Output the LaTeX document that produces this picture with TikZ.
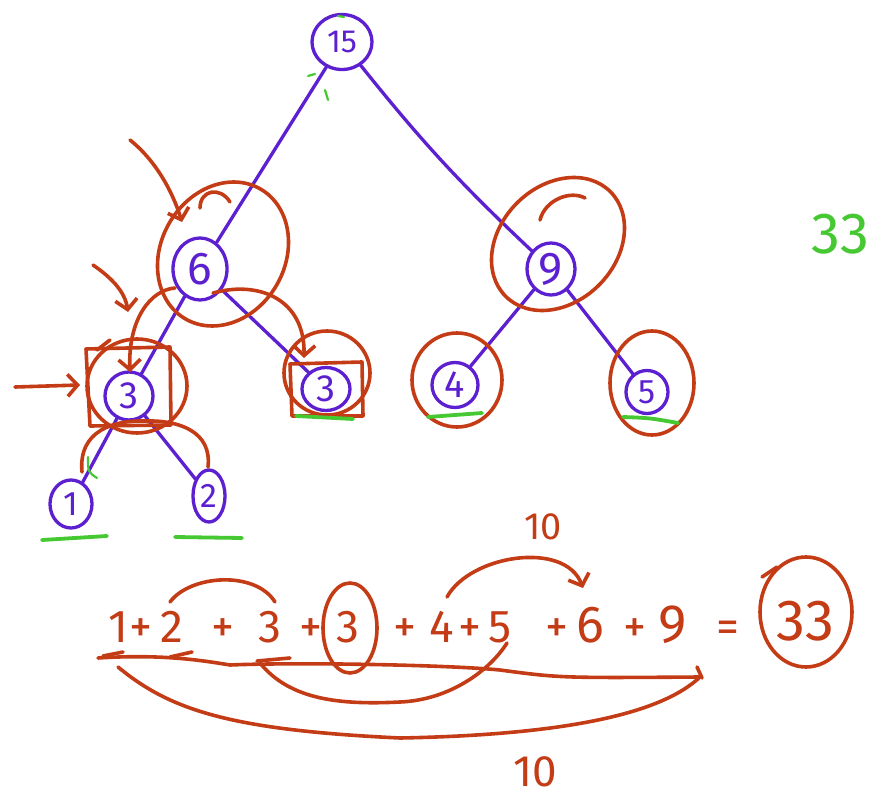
\documentclass[tikz,border=0pt]{standalone}
\usepackage{fontspec}
\setmainfont{Fira Sans}
\usetikzlibrary{arrows.meta,shapes.geometric}
\definecolor{pur}{RGB}{92,32,208}
\definecolor{org}{RGB}{196,60,22}
\definecolor{grn}{RGB}{70,200,50}
\begin{document}
\begin{tikzpicture}[x=1pt,y=-1pt,line cap=round,line join=round,
  tn/.style={ellipse,draw=pur,line width=3.3pt,text=pur,inner sep=0pt,font=\fontsize{38}{38}\selectfont},
  edge/.style={draw=pur,line width=3.3pt},
  ann/.style={draw=org,line width=3.6pt},
  annarr/.style={ann,-{Straight Barb[length=10pt,width=22pt]}},
  gl/.style={draw=grn,line width=3.8pt},
  gs/.style={draw=grn,line width=2.2pt},
  eq/.style={text=org,inner sep=0pt,anchor=base,font=\fontsize{46}{46}\selectfont},
]
\useasboundingbox[fill=white] (0,0) rectangle (886,802);

% ---------- tree nodes ----------
\node[tn,minimum width=60pt,minimum height=55pt,font=\fontsize{32}{32}\selectfont] (n15) at (342,42) {15};
\node[tn,minimum width=54pt,minimum height=62pt,font=\fontsize{46}{46}\selectfont] (n6) at (200,269) {6};
\node[tn,minimum width=48pt,minimum height=52pt,font=\fontsize{46}{46}\selectfont] (n9) at (551,269) {9};
\node[tn,minimum width=48pt,minimum height=48pt] (n3a) at (129,396) {3};
\node[tn,minimum width=48pt,minimum height=43pt] (n3b) at (326,389) {3};
\node[tn,minimum width=46pt,minimum height=45pt] (n4) at (455,385) {4};
\node[tn,minimum width=42pt,minimum height=43pt,font=\fontsize{34}{34}\selectfont] (n5) at (647,392) {5};
\node[tn,minimum width=42pt,minimum height=48pt,font=\fontsize{34}{34}\selectfont] (n1) at (71,504) {1};
\node[tn,minimum width=32pt,minimum height=52pt,font=\fontsize{34}{34}\selectfont] (n2) at (209,496) {2};

% ---------- tree edges ----------
\draw[edge] (n15) -- (n6);
\draw[edge] (n15) to[bend right=4] (n9);
\draw[edge] (n6) -- (n3a);
\draw[edge] (n6) -- (n3b);
\draw[edge] (n9) -- (n4);
\draw[edge] (n9) -- (n5);
\draw[edge] (n3a) -- (n1);
\draw[edge] (n3a) -- (n2);

% ---------- orange annotations on the tree ----------
\draw[ann,rotate around={60:(223,254)}] (223,254) ellipse [x radius=75,y radius=62];
\draw[ann] (200,208) .. controls (200,190) and (220,186) .. (230,202);
\draw[annarr] (130,140) .. controls (155,160) and (172,190) .. (182,222);
\draw[annarr] (93,265) .. controls (112,278) and (125,292) .. (128,312);
\draw[annarr] (15,387) -- (80,385);
\draw[ann] (86,349) -- (170,347) -- (171,425) -- (90,426) -- cycle;
\draw[ann] (137,386) ellipse [x radius=50,y radius=47];
\draw[ann] (97,350) -- (110,340);
\draw[ann] (290,364) -- (362,362) -- (363,416) -- (292,416) -- cycle;
\draw[ann] (327,373) ellipse [x radius=43,y radius=42];
\draw[annarr] (175,288) .. controls (150,290) and (128,320) .. (130,372);
\draw[annarr] (213,293) .. controls (260,280) and (305,300) .. (304,358);
\draw[ann] (82,472) .. controls (78,430) and (115,420) .. (145,421) .. controls (180,420) and (212,432) .. (208,467);
\draw[ann,rotate around={45:(558,244)}] (558,244) ellipse [x radius=74,y radius=58];
\draw[ann] (540,220) .. controls (545,200) and (570,190) .. (585,198);
\draw[ann] (457,380) ellipse [x radius=45,y radius=47];
\draw[ann] (652,383) ellipse [x radius=42,y radius=52];

% ---------- green marks ----------
\draw[gl] (428,417) -- (482,413);
\draw[gl] (623,417) .. controls (650,418) .. (678,423);
\draw[gl] (42,540) -- (107,536);
\draw[gl] (175,537) -- (242,538);
\draw[gl] (296,416) -- (353,419);
\draw[gs] (308,76) -- (315,74);
\draw[gs] (325,90) -- (328,100);
\draw[gs] (338,16) -- (344,17);
\draw[gs] (88,457) .. controls (88,472) .. (97,478);
\node[text=grn,font=\fontsize{58}{58}\selectfont] (g33) at (840,234) {33};

% ---------- equation ----------
\node[eq] (e1)  at (118,642) {1};
\node[eq] (p1)  at (141,642) {+};
\node[eq] (e2)  at (172,642) {2};
\node[eq] (p2)  at (223,642) {+};
\node[eq] (e3)  at (270,642) {3};
\node[eq] (p3)  at (311,642) {+};
\node[eq] (e3c) at (348,642) {3};
\node[eq] (p4)  at (405,642) {+};
\node[eq] (e4)  at (442,642) {4};
\node[eq] (p5)  at (470,642) {+};
\node[eq] (e5)  at (500,642) {5};
\node[eq] (p6)  at (557,642) {+};
\node[eq,font=\fontsize{52}{52}\selectfont] (e6)  at (590,642) {6};
\node[eq] (p7)  at (635,642) {+};
\node[eq,font=\fontsize{54}{54}\selectfont] (e9)  at (673,642) {9};
\node[eq] (eqs) at (728,642) {=};
\node[eq,font=\fontsize{58}{58}\selectfont] (e33) at (805,640) {33};

\draw[ann] (350,628) ellipse [x radius=27,y radius=45];
\draw[ann] (806,612) ellipse [x radius=46,y radius=55];
\draw[ann] (762,577) -- (777,567);
\draw[ann] (170,602) .. controls (190,575) and (255,570) .. (275,602);
\draw[annarr] (447,597) .. controls (470,555) and (565,540) .. (583,588);
\node[text=org,font=\fontsize{38}{38}\selectfont] (t10a) at (543,527) {10};

\draw[ann] (98,658) .. controls (160,654) and (200,660) .. (230,665) .. controls (300,662) and (450,665) .. (500,670) .. controls (560,678) .. (700,677);
\draw[ann] (697,667) -- (702,678);
\draw[ann] (103,656) -- (123,652);
\draw[ann] (170,657) -- (192,652);
\draw[ann] (257,661) -- (290,658);
\draw[ann] (260,663) .. controls (290,700) and (340,705) .. (400,702) .. controls (450,700) and (490,670) .. (507,643);
\draw[ann] (118,667) .. controls (170,710) and (230,730) .. (400,738) .. controls (560,735) and (660,715) .. (700,677);
\node[text=org,font=\fontsize{44}{44}\selectfont] (t10b) at (535,772) {10};
\end{tikzpicture}
\end{document}
